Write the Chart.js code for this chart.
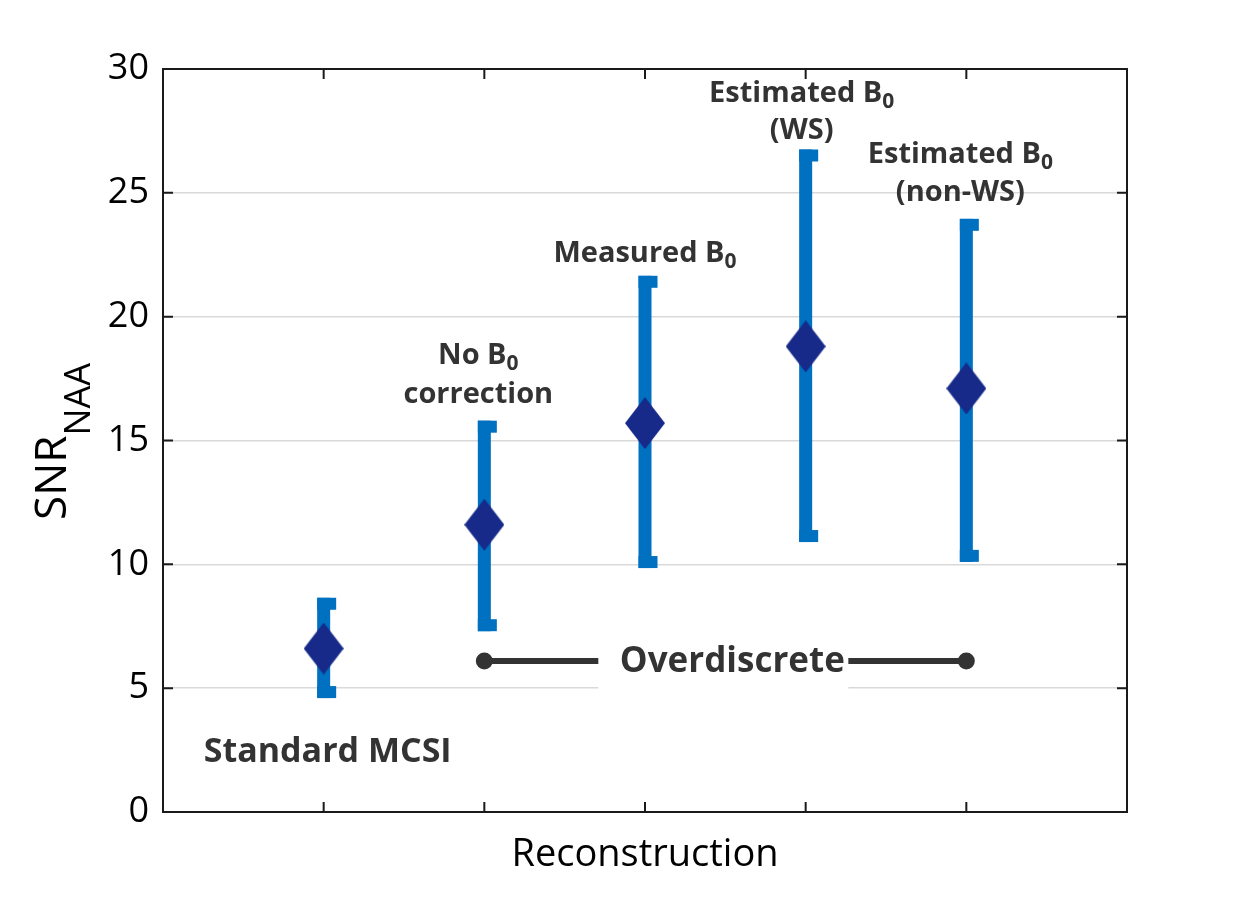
<!DOCTYPE html>
<html>
<head>
<meta charset="utf-8">
<script src="https://cdn.jsdelivr.net/npm/chart.js@4.4.1/dist/chart.umd.min.js"></script>
<style>
  html, body { margin: 0; padding: 0; background: #ffffff; }
  #wrap { width: 1246px; height: 912px; position: relative; }
</style>
</head>
<body>
<div id="wrap"><canvas id="c"></canvas></div>
<script>
// ---- data ----
const categories = ['Standard MCSI', 'No B0 correction', 'Measured B0', 'Estimated B0 (WS)', 'Estimated B0 (non-WS)'];
const xPositions = [1, 2, 3, 4, 5];
const meanSNR = [6.6, 11.6, 15.7, 18.8, 17.1];
const lowSNR  = [4.6, 7.3, 9.85, 10.9, 10.1];
const highSNR = [8.65, 15.8, 21.65, 26.75, 23.95];
const yTickValues = [0, 5, 10, 15, 20, 25, 30];
const overdiscreteFrom = 2;
const overdiscreteTo = 5;
const overdiscreteLevel = 6.1;

const TEXT_DARK = '#333333';
const BAR_BLUE = '#0070c0';
const DIAMOND = '#172a8a';
const ANN_FONT = '"Open Sans", "DejaVu Sans", sans-serif';

// diamond point image
function makeDiamond(w, h, color) {
  const cv = document.createElement('canvas');
  cv.width = w; cv.height = h;
  const g = cv.getContext('2d');
  g.fillStyle = color;
  g.beginPath();
  g.moveTo(w / 2, 0);
  g.lineTo(w, h / 2);
  g.lineTo(w / 2, h);
  g.lineTo(0, h / 2);
  g.closePath();
  g.fill();
  return cv;
}
const diamondImg = makeDiamond(40, 52, DIAMOND);

// rich text helper: parts [{t, sub}]
function drawRich(ctx, parts, cx, baseline, size) {
  const main = 'bold ' + size + 'px ' + ANN_FONT;
  const sub = 'bold ' + Math.round(size * 0.72) + 'px ' + ANN_FONT;
  let total = 0;
  parts.forEach(p => { ctx.font = p.sub ? sub : main; total += ctx.measureText(p.t).width; });
  let x = cx - total / 2;
  ctx.textAlign = 'left';
  ctx.textBaseline = 'alphabetic';
  parts.forEach(p => {
    ctx.font = p.sub ? sub : main;
    ctx.fillText(p.t, x, baseline + (p.sub ? size * 0.2 : 0));
    x += ctx.measureText(p.t).width;
  });
}

const labelSpecs = [
  { x: 1, dx: 4, lines: [{ y: 2.0, parts: [{ t: 'Standard MCSI' }] }], size: 34 },
  { x: 2, dx: -6, lines: [
      { y: 18.1, parts: [{ t: 'No B' }, { t: '0', sub: true }] },
      { y: 16.5, parts: [{ t: 'correction' }] }], size: 29 },
  { x: 3, dx: 0, lines: [{ y: 22.2, parts: [{ t: 'Measured B' }, { t: '0', sub: true }] }], size: 29 },
  { x: 4, dx: -4, lines: [
      { y: 28.66, parts: [{ t: 'Estimated B' }, { t: '0', sub: true }] },
      { y: 27.17, parts: [{ t: '(WS)' }] }], size: 29 },
  { x: 5, dx: -6, lines: [
      { y: 26.2, parts: [{ t: 'Estimated B' }, { t: '0', sub: true }] },
      { y: 24.66, parts: [{ t: '(non-WS)' }] }], size: 29 }
];

const errorBarPlugin = {
  id: 'errorBars',
  beforeDatasetsDraw(chart) {
    const { ctx, scales: { x, y } } = chart;
    ctx.save();
    ctx.fillStyle = BAR_BLUE;
    const bw = 13, capExt = 6, capH = 12;
    xPositions.forEach((xv, i) => {
      const cx = x.getPixelForValue(xv);
      const yt = y.getPixelForValue(highSNR[i]);
      const yb = y.getPixelForValue(lowSNR[i]);
      ctx.fillRect(cx - bw / 2, yt, bw, yb - yt);
      ctx.fillRect(cx - bw / 2, yt, bw + capExt, capH);
      ctx.fillRect(cx - bw / 2, yb - capH, bw + capExt, capH);
    });
    ctx.restore();
  }
};

const framePlugin = {
  id: 'frame',
  afterDatasetsDraw(chart) {
    const { ctx, chartArea: a, scales: { x, y } } = chart;
    ctx.save();
    // Overdiscrete white box + label
    const xm1 = x.getPixelForValue(overdiscreteFrom), xm2 = x.getPixelForValue(overdiscreteTo);
    const mid = (xm1 + xm2) / 2;
    const by = y.getPixelForValue(overdiscreteLevel);
    ctx.fillStyle = '#ffffff';
    ctx.fillRect(mid - 127, by - 29, 250, 58);
    ctx.fillStyle = TEXT_DARK;
    drawRich(ctx, [{ t: 'Overdiscrete' }], mid + 7, y.getPixelForValue(5.65), 35);

    // category labels
    labelSpecs.forEach(s => {
      const cx = x.getPixelForValue(s.x) + s.dx;
      s.lines.forEach(l => drawRich(ctx, l.parts, cx, y.getPixelForValue(l.y), s.size));
    });

    // frame
    ctx.strokeStyle = '#1a1a1a';
    ctx.lineWidth = 2;
    ctx.strokeRect(a.left, a.top, a.right - a.left, a.bottom - a.top);
    const tl = 10;
    ctx.beginPath();
    xPositions.forEach(xv => {
      const px = x.getPixelForValue(xv);
      ctx.moveTo(px, a.bottom); ctx.lineTo(px, a.bottom - tl);
      ctx.moveTo(px, a.top); ctx.lineTo(px, a.top + tl);
    });
    yTickValues.forEach(v => {
      const py = y.getPixelForValue(v);
      ctx.moveTo(a.left, py); ctx.lineTo(a.left + tl, py);
      ctx.moveTo(a.right, py); ctx.lineTo(a.right - tl, py);
    });
    ctx.stroke();

    // y-axis title SNR_NAA
    ctx.translate(66, 520);
    ctx.rotate(-Math.PI / 2);
    ctx.fillStyle = '#000000';
    ctx.textAlign = 'left';
    ctx.textBaseline = 'alphabetic';
    ctx.font = '44px "Open Sans", sans-serif';
    ctx.fillText('SNR', 0, 0);
    const w = ctx.measureText('SNR').width;
    ctx.font = '36px "Open Sans", sans-serif';
    ctx.fillText('NAA', w, 24);
    ctx.restore();
  }
};

const ctxEl = document.getElementById('c');
new Chart(ctxEl, {
  type: 'scatter',
  data: {
    datasets: [
      {
        label: 'Overdiscrete',
        type: 'line',
        data: [{ x: overdiscreteFrom, y: overdiscreteLevel }, { x: overdiscreteTo, y: overdiscreteLevel }],
        borderColor: TEXT_DARK,
        backgroundColor: TEXT_DARK,
        borderWidth: 6,
        pointRadius: 8.5,
        pointHoverRadius: 8.5,
        pointBackgroundColor: TEXT_DARK,
        pointBorderWidth: 0,
        fill: false,
        order: 2
      },
      {
        label: 'Mean SNR',
        data: xPositions.map((xv, i) => ({ x: xv, y: meanSNR[i] })),
        pointStyle: diamondImg,
        pointRadius: 20,
        showLine: false,
        order: 1
      }
    ]
  },
  options: {
    responsive: true,
    maintainAspectRatio: false,
    animation: false,
    events: [],
    layout: { padding: { top: 69, right: 119, left: 0, bottom: 0 } },
    plugins: { legend: { display: false }, tooltip: { enabled: false } },
    scales: {
      x: {
        type: 'linear',
        min: 0, max: 6,
        ticks: { display: false },
        grid: { display: false, drawTicks: false },
        border: { display: false },
        title: {
          display: true,
          text: 'Reconstruction',
          color: '#000000',
          font: { family: '"Open Sans", sans-serif', size: 38 },
          padding: { top: 0, bottom: 34 }
        },
        afterFit(scale) { scale.height = 100; }
      },
      y: {
        min: 0, max: 30,
        ticks: {
          stepSize: 5,
          color: '#000000',
          font: { family: '"Open Sans", sans-serif', size: 36 },
          padding: 14
        },
        grid: {
          drawTicks: false,
          lineWidth: 1.5,
          color: (c) => (c.tick && (c.tick.value === 0 || c.tick.value === 30)) ? 'rgba(0,0,0,0)' : '#d9d9d9'
        },
        border: { display: false },
        afterFit(scale) { scale.width = 163; }
      }
    }
  },
  plugins: [errorBarPlugin, framePlugin]
});
</script>
</body>
</html>
